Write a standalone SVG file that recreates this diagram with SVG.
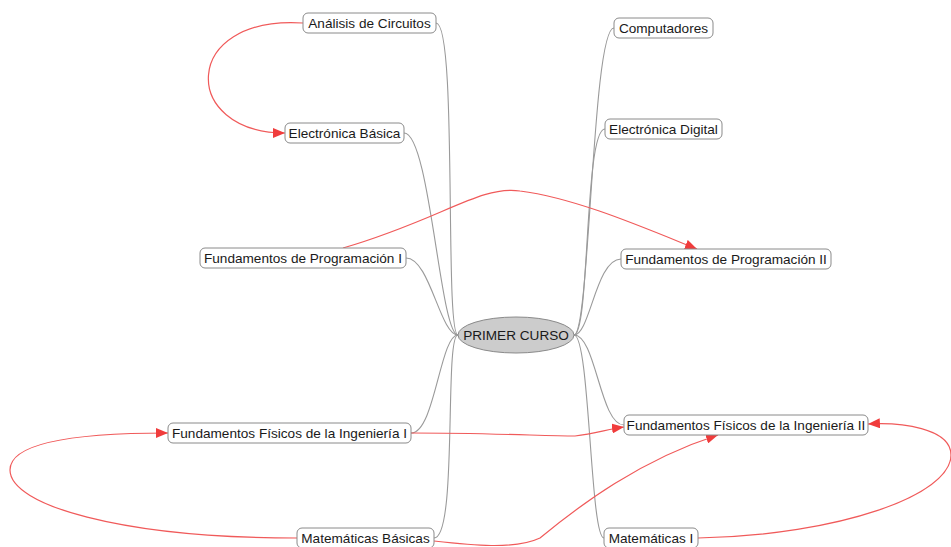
<svg xmlns="http://www.w3.org/2000/svg" width="951" height="547" viewBox="0 0 951 547">
<style>
.box{fill:#fff;stroke:#8a8a8a;stroke-width:1}
.t{font-family:"Liberation Sans",Arial,sans-serif;font-size:13.6px;fill:#1a1a1a;text-anchor:middle;dominant-baseline:central}
.g{fill:none;stroke:#9a9a9a;stroke-width:1.1}
.r{fill:none;stroke:#f05a5a;stroke-width:1.2}
</style>
<defs>
<marker id="ah" viewBox="0 0 12 10" refX="12" refY="5" markerWidth="12" markerHeight="10" markerUnits="userSpaceOnUse" orient="auto">
<path d="M0,0 L12,5 L0,10 Z" fill="#f03c3c"/>
</marker>
</defs>
<rect width="951" height="547" fill="#fff"/>
<g id="connectors">
<path class="g" d="M436,23 C458,23 444,335 458,335"/>
<path class="g" d="M404,133 C430,133 440,335 458,335"/>
<path class="g" d="M406,258 C430,258 440,335 458,335"/>
<path class="g" d="M411,433 C435,433 440,335 458,335"/>
<path class="g" d="M434,538 C458,538 444,335 458,335"/>
<path class="g" d="M614,28 C592,28 590,335 574,335"/>
<path class="g" d="M605,129 C584,129 590,335 574,335"/>
<path class="g" d="M621,259 C596,259 590,335 574,335"/>
<path class="g" d="M624,425 C600,425 596,335 574,335"/>
<path class="g" d="M604,538 C590,538 590,335 574,335"/>
<path class="r" d="M303,23 C180,15 180,133 285,133" marker-end="url(#ah)"/>
<path class="r" d="M343,248 C440,220 480,185 520,191 C575,198 640,226 697,249" marker-end="url(#ah)"/>
<path class="r" d="M411,433 C490,433 545,436 575,436 C595,434 608,429 624,427" marker-end="url(#ah)"/>
<path class="r" d="M297,538 C120,538 10,505 10,470 C10,440 90,433 168,433" marker-end="url(#ah)"/>
<path class="r" d="M434,541 C470,545 515,550 540,538 C580,505 640,460 718,435" marker-end="url(#ah)"/>
<path class="r" d="M698,538 C840,535 951,495 951,455 C951,428 900,422 868,424" marker-end="url(#ah)"/>
</g>
<g id="primer-curso">
<ellipse cx="516" cy="335" rx="58" ry="18" fill="#cccccc" stroke="#8a8a8a"/>
<text class="t" x="516" y="335">PRIMER CURSO</text>
</g>
<g id="analisis-circuitos">
<rect class="box" x="303" y="13" width="133" height="20" rx="5"/>
<text class="t" x="369.5" y="23">Análisis de Circuitos</text>
</g>
<g id="electronica-basica">
<rect class="box" x="285" y="123" width="119" height="20" rx="5"/>
<text class="t" x="344.5" y="133">Electrónica Básica</text>
</g>
<g id="fundamentos-prog-1">
<rect class="box" x="200" y="248" width="206" height="20" rx="5"/>
<text class="t" x="303" y="258">Fundamentos de Programación I</text>
</g>
<g id="fundamentos-fisicos-1">
<rect class="box" x="168" y="423" width="243" height="20" rx="5"/>
<text class="t" x="289.5" y="433">Fundamentos Físicos de la Ingeniería I</text>
</g>
<g id="matematicas-basicas">
<rect class="box" x="297" y="528" width="137" height="20" rx="5"/>
<text class="t" x="365.5" y="538">Matemáticas Básicas</text>
</g>
<g id="computadores">
<rect class="box" x="614" y="18" width="99" height="20" rx="5"/>
<text class="t" x="663.5" y="28">Computadores</text>
</g>
<g id="electronica-digital">
<rect class="box" x="605" y="119" width="117" height="20" rx="5"/>
<text class="t" x="663.5" y="129">Electrónica Digital</text>
</g>
<g id="fundamentos-prog-2">
<rect class="box" x="621" y="249" width="210" height="20" rx="5"/>
<text class="t" x="726" y="259">Fundamentos de Programación II</text>
</g>
<g id="fundamentos-fisicos-2">
<rect class="box" x="624" y="415" width="244" height="20" rx="5"/>
<text class="t" x="746" y="425">Fundamentos Físicos de la Ingeniería II</text>
</g>
<g id="matematicas-1">
<rect class="box" x="604" y="528" width="94" height="20" rx="5"/>
<text class="t" x="651" y="538">Matemáticas I</text>
</g>
</svg>
